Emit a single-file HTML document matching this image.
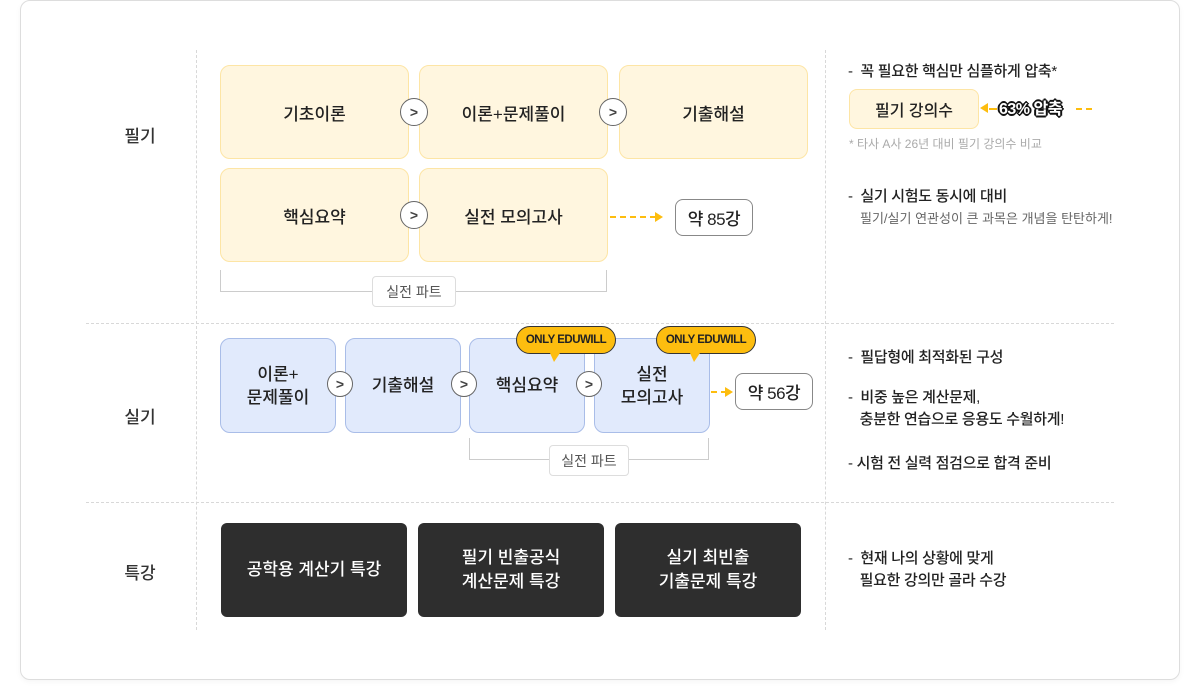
<!DOCTYPE html>
<html><head><meta charset="utf-8"><style>
*{margin:0;padding:0;box-sizing:border-box}
body{width:1200px;height:695px;background:#fff;font-family:"Liberation Sans","Noto Sans CJK KR",sans-serif;color:#333;position:relative;overflow:hidden}
.a{position:absolute}
.card{left:20px;top:0;width:1160px;height:680px;border:1px solid #ddd;border-radius:10px;box-shadow:0 2px 6px rgba(0,0,0,.04)}
.vd{border-left:1px dashed #d8d8d8}
.hd{border-top:1px dashed #d8d8d8}
.lab{font-size:17px;color:#333;width:60px;text-align:center;font-weight:500}
.y{background:#fff6df;border:1px solid #fde5a5;border-radius:10px;display:flex;align-items:center;justify-content:center;font-size:17px;color:#222;text-align:center;font-weight:500}
.b{background:#e1eafc;border:1px solid #a9bde8;border-radius:10px;display:flex;align-items:center;justify-content:center;font-size:17px;color:#222;text-align:center;line-height:23px;font-weight:500}
.d{background:#2e2e2e;border-radius:6px;display:flex;align-items:center;justify-content:center;font-size:17px;color:#fff;text-align:center;line-height:24px;font-weight:500}
.c{width:28px;height:28px;border-radius:50%;background:#fff;border:1px solid #666;display:flex;align-items:center;justify-content:center;font-size:14px;font-weight:bold;color:#444;z-index:2}
.pill{background:#fff;border:1px solid #888;border-radius:8px;display:flex;align-items:center;justify-content:center;font-size:17px;color:#222;letter-spacing:-.5px;font-weight:500}
.tag{background:#fff;border:1px solid #ddd;border-radius:4px;display:flex;align-items:center;justify-content:center;font-size:14px;color:#555}
.br{border:1px solid #ccc;border-top:none}
.badge{background:#fdbd0f;border:1px solid #333;border-radius:14px;font-size:11.5px;font-weight:bold;color:#222;display:flex;align-items:center;justify-content:center;z-index:3;letter-spacing:-.5px}
.badge:after{content:"";position:absolute;left:33px;bottom:-9px;border-left:4px solid transparent;border-right:6px solid transparent;border-top:9px solid #fdbd0f}
.t{font-size:15px;color:#222;line-height:22px;letter-spacing:-.3px;font-weight:500}
.s{font-size:13px;color:#666}
</style></head><body>
<div class="a card"></div>
<div class="a vd" style="left:196px;top:50px;height:580px"></div>
<div class="a vd" style="left:825px;top:50px;height:580px"></div>
<div class="a hd" style="left:86px;top:323px;width:1028px"></div>
<div class="a hd" style="left:86px;top:502px;width:1028px"></div>

<div class="a lab" style="left:110px;top:122px">필기</div>
<div class="a lab" style="left:110px;top:403px">실기</div>
<div class="a lab" style="left:110px;top:559px">특강</div>

<div class="a y" style="left:220px;top:65px;width:189px;height:94px">기초이론</div>
<div class="a y" style="left:419px;top:65px;width:189px;height:94px">이론+문제풀이</div>
<div class="a y" style="left:619px;top:65px;width:189px;height:94px">기출해설</div>
<div class="a y" style="left:220px;top:168px;width:189px;height:94px">핵심요약</div>
<div class="a y" style="left:419px;top:168px;width:189px;height:94px">실전 모의고사</div>
<div class="a c" style="left:400px;top:98px">&gt;</div>
<div class="a c" style="left:599px;top:98px">&gt;</div>
<div class="a c" style="left:400px;top:201px">&gt;</div>
<div class="a" style="left:610px;top:216px;width:46px;border-top:2px dashed #fdbd0f"></div>
<div class="a" style="left:655px;top:212px;border-top:5px solid transparent;border-bottom:5px solid transparent;border-left:8px solid #fdbd0f"></div>
<div class="a pill" style="left:675px;top:199px;width:78px;height:37px">약 85강</div>
<div class="a br" style="left:220px;top:270px;width:387px;height:22px"></div>
<div class="a tag" style="left:372px;top:276px;width:84px;height:31px">실전 파트</div>

<div class="a b" style="left:220px;top:338px;width:116px;height:95px">이론+<br>문제풀이</div>
<div class="a b" style="left:345px;top:338px;width:116px;height:95px">기출해설</div>
<div class="a b" style="left:469px;top:338px;width:116px;height:95px">핵심요약</div>
<div class="a b" style="left:594px;top:338px;width:116px;height:95px">실전<br>모의고사</div>
<div class="a c" style="left:327px;top:371px;width:26px;height:26px">&gt;</div>
<div class="a c" style="left:451px;top:371px;width:26px;height:26px">&gt;</div>
<div class="a c" style="left:576px;top:371px;width:26px;height:26px">&gt;</div>
<div class="a badge" style="left:516px;top:326px;width:100px;height:28px">ONLY EDUWILL</div>
<div class="a badge" style="left:656px;top:326px;width:100px;height:28px">ONLY EDUWILL</div>
<div class="a" style="left:711px;top:391px;width:16px;border-top:2px dashed #fdbd0f"></div>
<div class="a" style="left:725px;top:387px;border-top:5px solid transparent;border-bottom:5px solid transparent;border-left:8px solid #fdbd0f"></div>
<div class="a pill" style="left:735px;top:373px;width:78px;height:37px">약 56강</div>
<div class="a br" style="left:469px;top:438px;width:240px;height:22px"></div>
<div class="a tag" style="left:549px;top:445px;width:80px;height:31px">실전 파트</div>

<div class="a d" style="left:221px;top:523px;width:186px;height:94px">공학용 계산기 특강</div>
<div class="a d" style="left:418px;top:523px;width:186px;height:94px">필기 빈출공식<br>계산문제 특강</div>
<div class="a d" style="left:615px;top:523px;width:186px;height:94px">실기 최빈출<br>기출문제 특강</div>

<div class="a t" style="left:848px;top:61px">-&nbsp; 꼭 필요한 핵심만 심플하게 압축*</div>
<div class="a y" style="left:849px;top:89px;width:130px;height:40px;border-radius:8px;font-size:16px">필기 강의수</div>
<div class="a" style="left:980px;top:103px;border-top:5px solid transparent;border-bottom:5px solid transparent;border-right:8px solid #fdbd0f"></div>
<div class="a" style="left:989px;top:108px;width:8px;border-top:2px dashed #fdbd0f"></div>
<div class="a" style="left:999px;top:95px;font-size:16px;font-weight:bold;color:#fff;letter-spacing:-.5px;text-shadow:-2px 0 #111,2px 0 #111,0 -2px #111,0 2px #111,-1px -1px #111,1px 1px #111,-1px 1px #111,1px -1px #111">63% 압축</div>
<div class="a" style="left:1076px;top:108px;width:16px;border-top:2px dashed #fdbd0f"></div>
<div class="a" style="left:849px;top:135px;font-size:12px;color:#aaa">* 타사 A사 26년 대비 필기 강의수 비교</div>
<div class="a t" style="left:848px;top:186px">-&nbsp; 실기 시험도 동시에 대비</div>
<div class="a s" style="left:860px;top:208px">필기/실기 연관성이 큰 과목은 개념을 탄탄하게!</div>

<div class="a t" style="left:848px;top:347px">-&nbsp; 필답형에 최적화된 구성</div>
<div class="a t" style="left:848px;top:387px">-&nbsp; 비중 높은 계산문제,<br>&nbsp;&nbsp; 충분한 연습으로 응용도 수월하게!</div>
<div class="a t" style="left:848px;top:453px">- 시험 전 실력 점검으로 합격 준비</div>
<div class="a t" style="left:848px;top:548px">-&nbsp; 현재 나의 상황에 맞게<br>&nbsp;&nbsp; 필요한 강의만 골라 수강</div>
</body></html>
